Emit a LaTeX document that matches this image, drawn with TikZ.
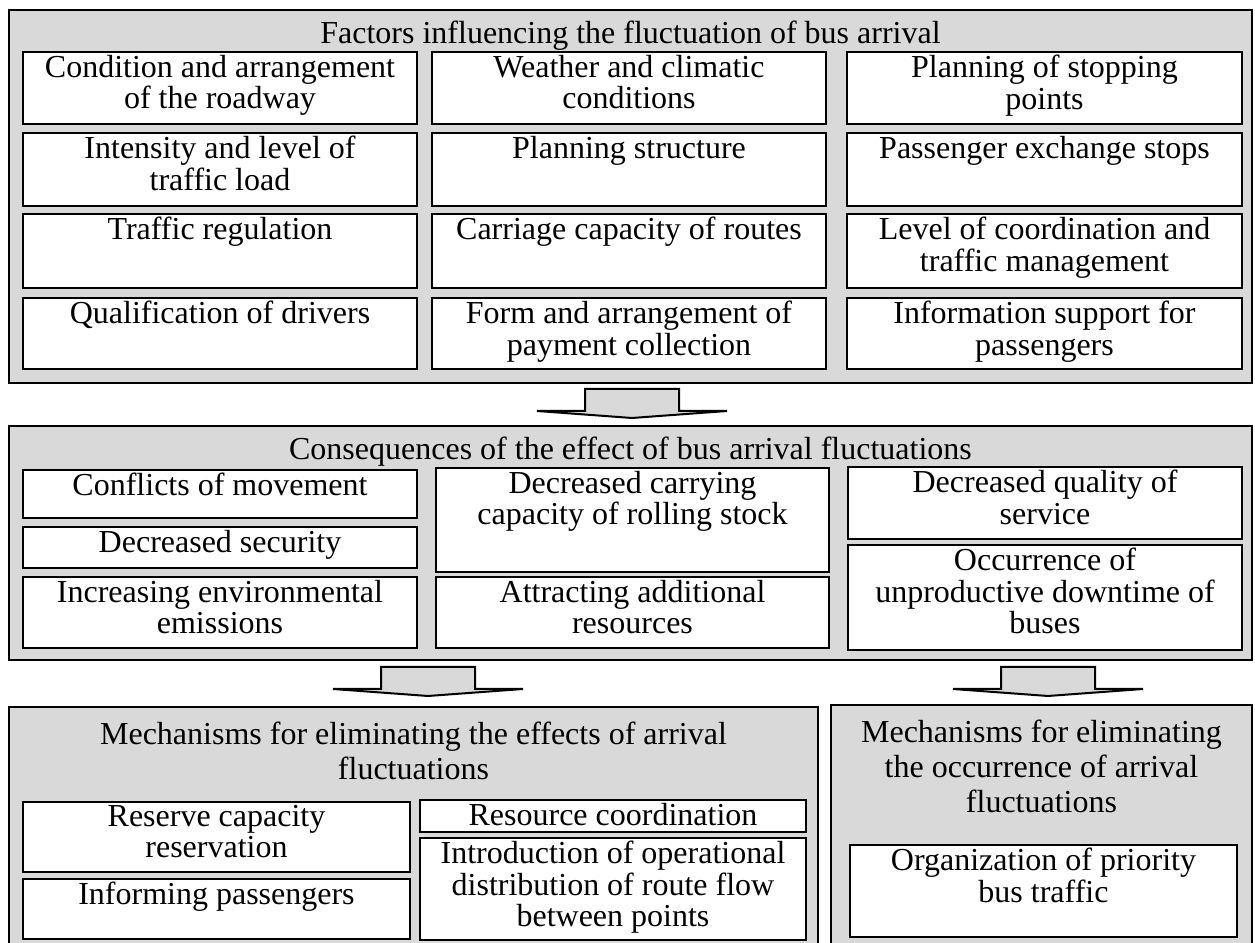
\documentclass[tikz,border=0pt]{standalone}
\usepackage{fontspec}
\setmainfont{Liberation Serif}
\usepackage{tikz}
\usetikzlibrary{positioning}
\definecolor{panelgray}{HTML}{D9D9D9}
\tikzset{
  panel/.style={draw, fill=panelgray, line width=0.6pt},
  cellbox/.style={draw, fill=white, line width=0.75pt},
  celltext/.style={anchor=north, align=center, inner sep=1pt,
                   font=\fontsize{12}{11.8}\selectfont},
  titletext/.style={anchor=north, align=center, inner sep=3.75pt,
                    font=\fontsize{12}{13.1}\selectfont},
  flowarrow/.style={draw, fill=panelgray, line width=0.75pt, line join=miter}
}
% one white box with its text at the top: name, x1, y1, x2, y2, text
\newcommand{\cell}[6]{%
  \draw[cellbox] (#2,#3) rectangle (#4,#5);
  \node[celltext] (#1) at ({(#2+#4)/2},#3) {#6};}
% broad arrow between panels: name, centre x, top y
\newcommand{\flow}[3]{%
  \coordinate (#1) at (#2,#3);
  \draw[flowarrow, shift={(#2,#3)}] (-47,0) -- (47,0) -- (47,22) -- (95,22)
    -- (0,29) -- (-95,22) -- (-47,22) -- cycle;}

\begin{document}
\begin{tikzpicture}[x=0.375pt, y=-0.375pt]
  \clip (0,0) rectangle (1255,943);

  % Factors
  \draw[panel] (9,10) rectangle (1252,383);
  \node[titletext] (factors) at (630.5,10) {Factors influencing the fluctuation of bus arrival};
  \cell{f11}{23}{52}{417}{124}{Condition and arrangement\\of the roadway}
  \cell{f12}{432}{52}{826}{124}{Weather and climatic\\conditions}
  \cell{f13}{847}{52}{1242}{124}{Planning of stopping\\points}
  \cell{f21}{23}{133}{417}{206}{Intensity and level of\\traffic load}
  \cell{f22}{432}{133}{826}{206}{Planning structure}
  \cell{f23}{847}{133}{1242}{206}{Passenger exchange stops}
  \cell{f31}{23}{214}{417}{288}{Traffic regulation}
  \cell{f32}{432}{214}{826}{288}{Carriage capacity of routes}
  \cell{f33}{847}{214}{1242}{288}{Level of coordination and\\traffic management}
  \cell{f41}{23}{298}{417}{369}{Qualification of drivers}
  \cell{f42}{432}{298}{826}{369}{Form and arrangement of\\payment collection}
  \cell{f43}{847}{298}{1242}{369}{Information support for\\passengers}

  \flow{a1}{632}{389}

  % Consequences
  \draw[panel] (9,426) rectangle (1252,660);
  \node[titletext] (conseq) at (630.5,426) {Consequences of the effect of bus arrival fluctuations};
  \cell{c11}{23}{470}{417}{518}{Conflicts of movement}
  \cell{c21}{23}{527}{417}{568}{Decreased security}
  \cell{c31}{23}{577}{417}{648}{Increasing environmental\\emissions}
  \cell{c12}{436}{468}{829}{572}{Decreased carrying\\capacity of rolling stock}
  \cell{c32}{436}{577}{829}{648}{Attracting additional\\resources}
  \cell{c13}{848}{467}{1242}{539}{Decreased quality of\\service}
  \cell{c23}{848}{545}{1242}{650}{Occurrence of\\unproductive downtime of\\buses}

  \flow{a2}{428}{667}
  \flow{a3}{1048}{667}

  % Mechanisms (effects)
  \draw[panel] (9,707) rectangle (818,960);
  \node[titletext, inner sep=5.5pt] (effects) at (413.5,707) {Mechanisms for eliminating the effects of arrival\\fluctuations};
  \cell{m11}{23}{802}{410}{872}{Reserve capacity\\reservation}
  \cell{m21}{23}{879}{410}{939}{Informing passengers}
  \cell{m12}{420}{800}{806}{832}{Resource coordination}
  \cell{m22}{420}{838}{806}{940}{Introduction of operational\\distribution of route flow\\between points}

  % Mechanisms (occurrence)
  \draw[panel] (831,705) rectangle (1252,960);
  \node[titletext, inner sep=5.5pt] (occur) at (1041.5,705) {Mechanisms for eliminating\\the occurrence of arrival\\fluctuations};
  \cell{p11}{850}{845}{1237}{937}{Organization of priority\\bus traffic}
\end{tikzpicture}
\end{document}
